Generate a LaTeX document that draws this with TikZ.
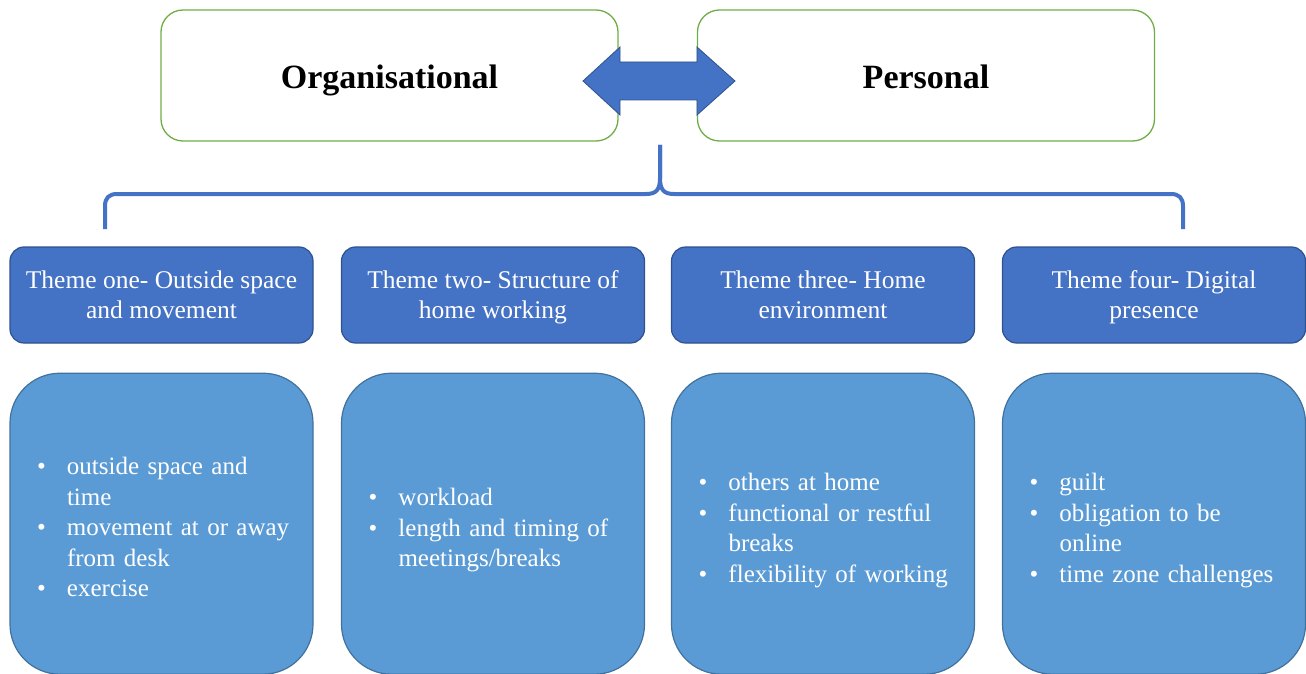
\documentclass[tikz,border=0pt]{standalone}
\usepackage{fontspec}
\setmainfont{Liberation Serif}
\usetikzlibrary{positioning}

\definecolor{grnline}{HTML}{70AD47}
\definecolor{themeblue}{HTML}{4472C4}
\definecolor{themeedge}{HTML}{2F528F}
\definecolor{listblue}{HTML}{5B9BD5}
\definecolor{listedge}{HTML}{41719C}

% one bullet with a hanging indent
\newcommand\bitem[1]{\par\raggedright\hangindent=37pt\hangafter=1\noindent\hspace*{7pt}\makebox[30pt][l]{\textbullet}#1\par}

\begin{document}
\begin{tikzpicture}[x=1pt,y=-1pt]
\tikzstyle{side}=[draw=grnline, line width=1.3pt, rounded corners=22pt, minimum width=457pt, minimum height=131pt, font=\fontsize{34}{38}\selectfont\bfseries, text height=27pt, text depth=0pt]
\tikzstyle{theme}=[draw=themeedge, fill=themeblue, line width=1.2pt, rounded corners=14pt, minimum width=303pt, minimum height=96pt, text=white, align=center, font=\fontsize{25.5}{30}\selectfont, text depth=-2pt]
\tikzstyle{items}=[draw=listedge, fill=listblue, line width=1.2pt, rounded corners=50pt, minimum width=303pt, minimum height=301pt, text=white, text width=263pt, inner xsep=20pt, font=\fontsize{25}{30.5}\selectfont]
\tikzstyle{brace}=[draw=themeblue, line width=4pt]
\useasboundingbox (0,0) rectangle (1306,674);

% the two sides
\node[side] (org) at (389.5,75.5) {Organisational};
\node[side] (pers) at (926,75.5) {Personal};
\filldraw[fill=themeblue, draw=themeedge, line width=0.8pt] (583,81) -- (620,47) -- (620,62) -- (697,62) -- (697,47) -- (735,81) -- (697,115) -- (697,100) -- (620,100) -- (620,115) -- cycle;

% brace over the themes
\coordinate (tip) at (660,145);
\coordinate (bl) at (105,229);
\coordinate (br) at (1183,229);
\draw[brace] (tip) -- (660,178) .. controls (660,190) and (656,194) .. (646,194) -- (117,194) .. controls (109,194) and (105,198) .. (105,206) -- (bl);
\draw[brace] (tip) -- (660,178) .. controls (660,190) and (664,194) .. (674,194) -- (1171,194) .. controls (1179,194) and (1183,198) .. (1183,206) -- (br);

% themes
\node[theme] (t1) at (161.5,295) {Theme one- Outside space\\and movement};
\node[theme] (t2) at (493,295) {Theme two- Structure of\\home working};
\node[theme] (t3) at (823,295) {Theme three- Home\\environment};
\node[theme] (t4) at (1154,295) {Theme four- Digital\\presence};

% what each theme covers
\node[items, below=29pt of t1] (l1) {\bitem{outside space and\newline time}\bitem{movement at or away\newline from desk}\bitem{exercise}\vspace*{6pt}};
\node[items, below=29pt of t2] (l2) {\bitem{workload}\bitem{length and timing of\newline meetings/breaks}};
\node[items, below=29pt of t3] (l3) {\bitem{others at home}\bitem{functional or restful\newline breaks}\bitem{flexibility of working}};
\node[items, below=29pt of t4] (l4) {\bitem{guilt}\bitem{obligation to be\newline online}\bitem{time zone challenges}};
\end{tikzpicture}
\end{document}
